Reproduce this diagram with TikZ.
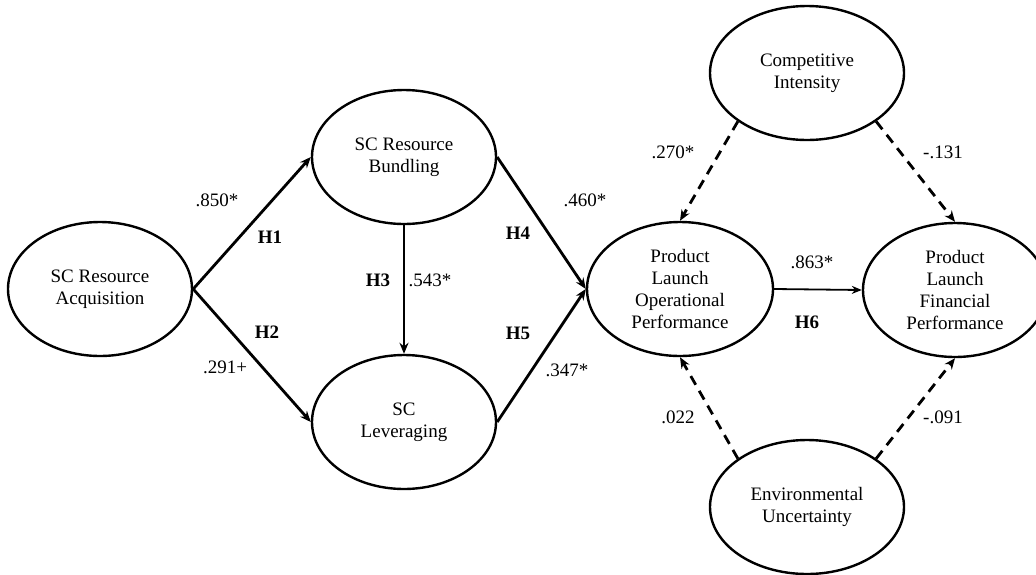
\documentclass[tikz,border=0pt]{standalone}
\usepackage{fontspec}
\setmainfont{Liberation Serif}
\usetikzlibrary{arrows.meta,shapes.geometric}
\tikzset{
  construct/.style={ellipse,draw,line width=2.4pt,minimum width=184pt,minimum height=134pt,
    inner sep=0pt,align=center,font=\fontsize{19}{22}\selectfont},
  path/.style={line width=2.8pt,-{Stealth[length=11pt,width=9pt]}},
  moderate/.style={line width=2.8pt,dash pattern=on 10pt off 7pt,-{Stealth[length=11pt,width=9pt]}},
  coef/.style={font=\fontsize{19}{22}\selectfont,inner sep=0pt},
  hyp/.style={font=\fontsize{19}{22}\selectfont\bfseries,inner sep=0pt}
}
\begin{document}
\begin{tikzpicture}[x=1pt,y=-1pt]
\useasboundingbox (0,0) rectangle (1036,574);
% constructs
\node[construct] (acq) at (100,289) {SC Resource\\Acquisition};
\node[construct] (bund) at (404,157) {SC Resource\\Bundling};
\node[construct] (lev) at (404,422) {SC\\Leveraging};
\node[construct,minimum width=186pt] (oper) at (680,289) {Product\\Launch\\Operational\\Performance};
\node[construct] (fin) at (955,290) {Product\\Launch\\Financial\\Performance};
\node[construct,minimum width=194pt] (comp) at (807,73) {Competitive\\Intensity};
\node[construct,minimum width=194pt] (env) at (807,507) {Environmental\\Uncertainty};
% hypothesised paths
\draw[path] (acq.east) -- (bund.west);
\draw[path] (acq.east) -- (lev.west);
\draw[path] (bund.south) -- (lev.north);
\draw[path] (bund.east) -- (oper.west);
\draw[path] (lev.east) -- (oper.west);
\draw[line width=1.8pt,-{Stealth[length=10pt,width=8pt]}] (oper.east) -- (fin.west);
% moderators
\draw[moderate] (comp.215) -- (oper.north);
\draw[moderate] (comp.325) -- (fin.north);
\draw[moderate] (env.145) -- (oper.south);
\draw[moderate] (env.35) -- (fin.south);
% coefficients
\node[coef] (c1) at (217,200) {.850*};
\node[coef] (c2) at (225,367) {.291+};
\node[coef] (c3) at (430,280) {.543*};
\node[coef] (c4) at (585,200) {.460*};
\node[coef] (c5) at (567,370) {.347*};
\node[coef] (c6) at (812,262) {.863*};
\node[coef] (c7) at (673,152) {.270*};
\node[coef] (c8) at (943,152) {-.131};
\node[coef] (c9) at (678,417) {.022};
\node[coef] (c10) at (943,417) {-.091};
% hypotheses
\node[hyp] (h1) at (270,237) {H1};
\node[hyp] (h2) at (267,332) {H2};
\node[hyp] (h3) at (378,280) {H3};
\node[hyp] (h4) at (518,233) {H4};
\node[hyp] (h5) at (518,333) {H5};
\node[hyp] (h6) at (807,322) {H6};
\end{tikzpicture}
\end{document}
